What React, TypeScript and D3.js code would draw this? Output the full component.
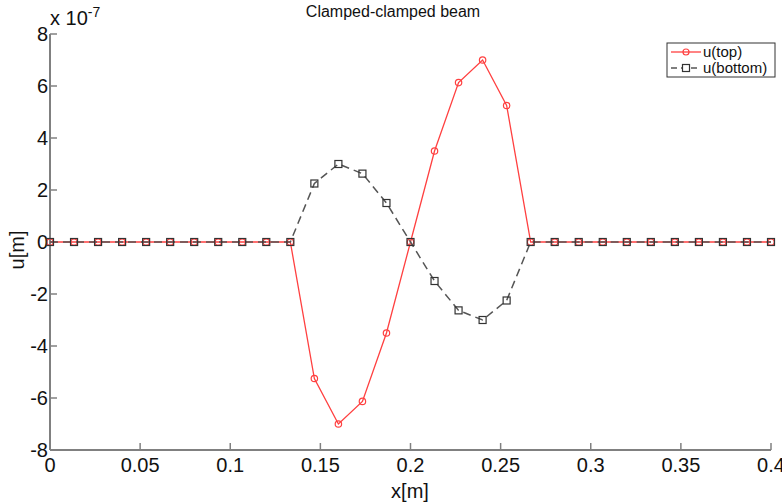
import React from "react";
import * as d3 from "d3";

const xValues: number[] = [
  0, 0.013333, 0.026667, 0.04, 0.053333, 0.066667, 0.08, 0.093333, 0.106667, 0.12,
  0.133333, 0.146667, 0.16, 0.173333, 0.186667, 0.2, 0.213333, 0.226667, 0.24, 0.253333,
  0.266667, 0.28, 0.293333, 0.306667, 0.32, 0.333333, 0.346667, 0.36, 0.373333, 0.386667, 0.4,
];
const uTop: number[] = [
  0, 0, 0, 0, 0, 0, 0, 0, 0, 0,
  0, -5.25, -7.0, -6.13, -3.5, 0, 3.5, 6.13, 7.0, 5.25,
  0, 0, 0, 0, 0, 0, 0, 0, 0, 0, 0,
];
const uBottom: number[] = [
  0, 0, 0, 0, 0, 0, 0, 0, 0, 0,
  0, 2.25, 3.0, 2.63, 1.5, 0, -1.5, -2.63, -3.0, -2.25,
  0, 0, 0, 0, 0, 0, 0, 0, 0, 0, 0,
];
const xTicks: number[] = [0, 0.05, 0.1, 0.15, 0.2, 0.25, 0.3, 0.35, 0.4];
const xTickLabels: string[] = ["0", "0.05", "0.1", "0.15", "0.2", "0.25", "0.3", "0.35", "0.4"];
const yTicks: number[] = [-8, -6, -4, -2, 0, 2, 4, 6, 8];
const seriesNames: string[] = ["u(top)", "u(bottom)"];

const W = 782;
const H = 504;
const font = "'Liberation Sans', Arial, Helvetica, sans-serif";

export default function App() {
  const x = d3.scaleLinear().domain([0, 0.4]).range([50, 771]);
  const y = d3.scaleLinear().domain([-8, 8]).range([450, 34]);
  const axisColor = "#808080";
  const red = "#ff4040";
  const gray = "#555555";

  const line = d3
    .line<number>()
    .x((_, i) => x(xValues[i]))
    .y((d) => y(d));

  return (
    <svg
      width={W}
      height={H}
      style={{ position: "absolute", left: 0, top: 0, background: "#fff" }}
      fontFamily={font}
    >
      <rect x={0} y={0} width={W} height={H} fill="#fff" />
      {/* axes */}
      <line x1={x(0)} x2={x(0.4)} y1={y(-8)} y2={y(-8)} stroke={axisColor} strokeWidth={2} />
      <line x1={x(0)} x2={x(0)} y1={y(-8)} y2={y(8)} stroke={axisColor} strokeWidth={2} />
      {xTicks.map((t, i) => (
        <g key={"xt" + i}>
          <line x1={x(t)} x2={x(t)} y1={y(-8)} y2={y(-8) - 7} stroke={axisColor} strokeWidth={1.5} />
          <text x={x(t)} y={y(-8) + 22} textAnchor="middle" fontSize={20} fill="#111">
            {xTickLabels[i]}
          </text>
        </g>
      ))}
      {yTicks.map((t, i) => (
        <g key={"yt" + i}>
          <line x1={x(0)} x2={x(0) + 7} y1={y(t)} y2={y(t)} stroke={axisColor} strokeWidth={1.5} />
          <text x={x(0) - 2} y={y(t) + 7} textAnchor="end" fontSize={20} fill="#111">
            {t}
          </text>
        </g>
      ))}
      <text x={50} y={25} fontSize={20} fill="#111">
        x 10
        <tspan dy={-8} fontSize={14}>-7</tspan>
      </text>
      <text x={393} y={17} textAnchor="middle" fontSize={16} fill="#111">
        Clamped-clamped beam
      </text>
      <text x={410} y={498} textAnchor="middle" fontSize={20} fill="#111">
        x[m]
      </text>
      <text
        transform={`translate(24, 250) rotate(-90)`}
        textAnchor="middle"
        fontSize={20}
        fill="#111"
      >
        u[m]
      </text>

      {/* u(top) */}
      <path d={line(uTop) || ""} fill="none" stroke={red} strokeWidth={1.3} />
      {uTop.map((v, i) => (
        <circle key={"ct" + i} cx={x(xValues[i])} cy={y(v)} r={3.2} fill="none" stroke={red} strokeWidth={1.2} />
      ))}
      {/* u(bottom) */}
      <path
        d={line(uBottom) || ""}
        fill="none"
        stroke={gray}
        strokeWidth={1.5}
        strokeDasharray="8,5"
      />
      {uBottom.map((v, i) => (
        <rect
          key={"sb" + i}
          x={x(xValues[i]) - 3.5}
          y={y(v) - 3.5}
          width={7}
          height={7}
          fill="none"
          stroke="#333"
          strokeWidth={1.2}
        />
      ))}

      {/* legend */}
      <rect x={667} y={43} width={108} height={34} fill="#fff" stroke="#333" strokeWidth={1} />
      <line x1={671} x2={701} y1={52} y2={52} stroke={red} strokeWidth={1.3} />
      <circle cx={686} cy={52} r={3} fill="none" stroke={red} strokeWidth={1.2} />
      <text x={703} y={57} fontSize={15} fill="#111">{seriesNames[0]}</text>
      <line x1={671} x2={701} y1={68} y2={68} stroke={gray} strokeWidth={1.5} strokeDasharray="6,4" />
      <rect x={682.5} y={64.5} width={7} height={7} fill="#fff" stroke="#333" strokeWidth={1.2} />
      <text x={703} y={73} fontSize={15} fill="#111">{seriesNames[1]}</text>
    </svg>
  );
}
